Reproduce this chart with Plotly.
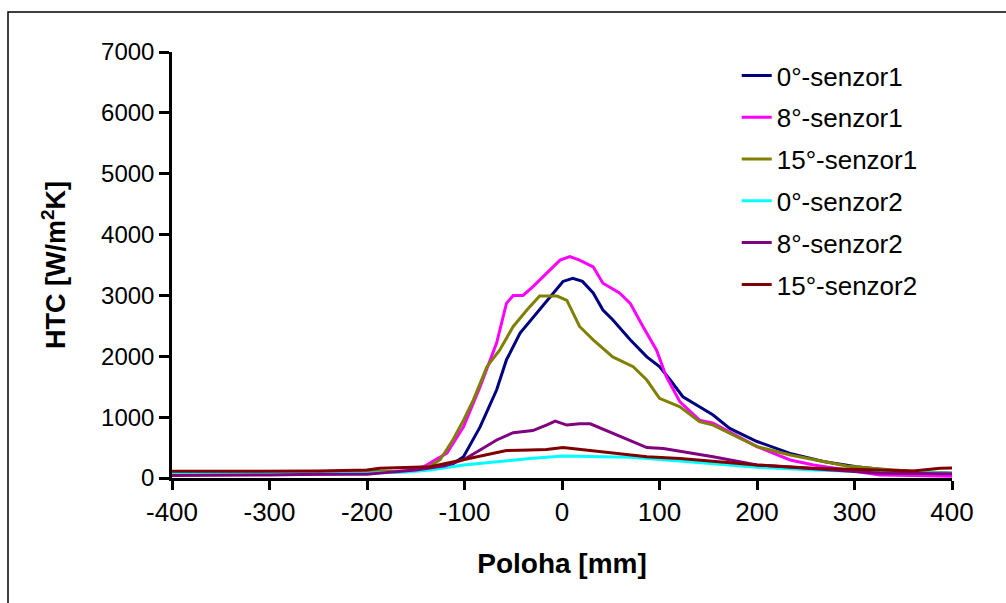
import plotly.graph_objects as go

names = ["0°-senzor1", "8°-senzor1", "15°-senzor1", "0°-senzor2", "8°-senzor2", "15°-senzor2"]
colors = ["#000080", "#FF00FF", "#808000", "#00FFFF", "#800080", "#800000"]

x_s1_0 = [-400, -350, -300, -250, -200, -160, -130, -115, -101, -84, -67, -57, -43, -26, -9, 1, 11, 21, 32, 42, 52, 70, 87, 100, 111, 124, 141, 155, 172, 200, 234, 268, 302, 333, 365, 400]
y_s1_0 = [90, 80, 70, 70, 80, 110, 150, 200, 350, 840, 1450, 1940, 2380, 2710, 3030, 3230, 3280, 3230, 3040, 2760, 2600, 2270, 1990, 1830, 1610, 1335, 1170, 1035, 815, 600, 405, 270, 185, 130, 100, 80]

x_s1_8 = [-400, -350, -300, -250, -200, -160, -142, -118, -101, -84, -67, -57, -50, -40, -30, -16, -2, 8, 18, 32, 42, 59, 70, 83, 97, 107, 121, 141, 155, 200, 234, 258, 292, 326, 360, 400]
y_s1_8 = [60, 60, 55, 60, 80, 120, 185, 410, 843, 1500, 2220, 2870, 3000, 3000, 3140, 3360, 3580, 3640, 3580, 3470, 3200, 3040, 2870, 2490, 2100, 1665, 1250, 950, 900, 515, 296, 213, 130, 50, 40, 30]

x_s1_15 = [-400, -350, -300, -250, -200, -160, -142, -125, -112, -101, -91, -77, -64, -50, -36, -23, -5, 5, 18, 32, 52, 73, 87, 100, 121, 141, 155, 200, 234, 268, 292, 326, 360, 400]
y_s1_15 = [100, 100, 100, 100, 100, 110, 130, 300, 625, 950, 1280, 1830, 2100, 2490, 2760, 2990, 2990, 2920, 2490, 2270, 1990, 1830, 1610, 1310, 1170, 925, 870, 515, 378, 270, 197, 148, 110, 80]

x_s2_0 = [-400, -350, -300, -250, -200, -160, -135, -101, -67, -33, 1, 35, 70, 104, 141, 155, 200, 258, 326, 400]
y_s2_0 = [90, 80, 80, 80, 80, 100, 130, 215, 270, 320, 360, 350, 340, 300, 250, 240, 175, 130, 100, 80]

x_s2_8 = [-400, -380, -300, -250, -200, -187, -150, -120, -101, -84, -67, -50, -30, -16, -7, 5, 18, 29, 52, 73, 87, 104, 121, 141, 155, 200, 258, 326, 400]
y_s2_8 = [40, 40, 50, 60, 60, 80, 130, 200, 300, 460, 625, 745, 780, 870, 935, 870, 890, 890, 735, 600, 500, 485, 440, 380, 350, 215, 150, 80, 70]

x_s2_15 = [-400, -350, -300, -250, -200, -187, -135, -101, -84, -57, -33, -16, 1, 25, 52, 87, 121, 155, 200, 258, 326, 360, 388, 400]
y_s2_15 = [110, 110, 110, 115, 130, 160, 185, 300, 360, 450, 460, 470, 500, 460, 415, 350, 320, 270, 215, 160, 130, 115, 160, 165]

xs = [x_s1_0, x_s1_8, x_s1_15, x_s2_0, x_s2_8, x_s2_15]
ys = [y_s1_0, y_s1_8, y_s1_15, y_s2_0, y_s2_8, y_s2_15]

x_ticks = [-400, -300, -200, -100, 0, 100, 200, 300, 400]
x_tick_text = ["-400", "-300", "-200", "-100", "0", "100", "200", "300", "400"]
y_ticks = [0, 1000, 2000, 3000, 4000, 5000, 6000, 7000]

fig = go.Figure()
for i in range(6):
    fig.add_trace(go.Scatter(x=xs[i], y=ys[i], mode="lines", name=names[i],
                             legendgroup=f"g{i}",
                             line=dict(color=colors[i], width=3)))

font = "Liberation Sans, Arial, sans-serif"
fig.update_layout(
    width=1006, height=603,
    margin=dict(l=172, r=54, t=52, b=125),
    paper_bgcolor="white", plot_bgcolor="white",
    font=dict(family=font, size=22, color="black"),
    legend=dict(x=0.724, y=1.0, xanchor="left", yanchor="top",
                font=dict(family=font, size=26, color="black"),
                tracegroupgap=5, bgcolor="rgba(0,0,0,0)"),
    xaxis=dict(range=[-400, 400], tickvals=x_ticks, ticktext=x_tick_text,
               showgrid=False, zeroline=False,
               showline=True, linecolor="black", linewidth=2.5,
               ticks="outside", ticklen=9, tickwidth=2.5, tickcolor="black",
               tickfont=dict(size=26),
               title=dict(text="<b>Poloha [mm]</b>", font=dict(size=28), standoff=28)),
    yaxis=dict(range=[0, 7000], tickvals=y_ticks, showgrid=False, zeroline=False,
               showline=True, linecolor="black", linewidth=2.5,
               ticks="outside", ticklen=10, tickwidth=2.5, tickcolor="black",
               tickfont=dict(size=24),
               title=dict(text="<b>HTC [W/m<sup>2</sup>K]</b>", font=dict(size=27), standoff=28)),
    shapes=[dict(type="rect", xref="paper", yref="paper",
                 x0=(8 - 172) / 780, x1=1.2, y0=-0.5, y1=(478 - 12) / 426,
                 line=dict(color="black", width=1.5), fillcolor="rgba(0,0,0,0)", layer="above")],
)

fig.write_html("out.html")
